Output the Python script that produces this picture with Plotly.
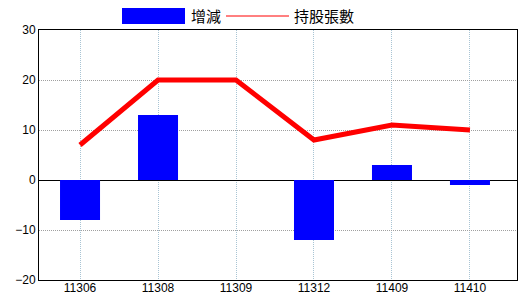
import plotly.graph_objects as go

categories = ["11306", "11308", "11309", "11312", "11409", "11410"]
change_values = [-8, 13, 0, -12, 3, -1]
holding_values = [7, 20, 20, 8, 11, 10]
y_ticks = [-20, -10, 0, 10, 20, 30]
legend_labels = ["增減", "持股張數"]

W, H = 520, 300
ML, MR, MT, MB = 39, 3, 30, 20
PW, PH = W - ML - MR, H - MT - MB

def px_x(px):
    return (px - ML) / PW

def px_y(py):
    return (H - MB - py) / PH

fig = go.Figure()
fig.add_trace(go.Bar(x=categories, y=change_values, marker_color="#0000FF",
                     marker_line_width=0, width=0.513, name=legend_labels[0]))
fig.add_trace(go.Scatter(x=categories, y=holding_values, mode="lines",
                         line=dict(color="#FF0000", width=5), name=legend_labels[1]))

cjk = "Noto Sans CJK TC"
# manual legend
fig.add_shape(type="rect", xref="paper", yref="paper",
              x0=px_x(122), x1=px_x(185), y0=px_y(24), y1=px_y(8),
              fillcolor="#0000FF", line_width=0)
fig.add_annotation(xref="paper", yref="paper", x=px_x(189), y=px_y(16),
                   text=legend_labels[0], showarrow=False, xanchor="left", yanchor="middle",
                   font=dict(family=cjk, size=15, color="black"))
fig.add_shape(type="line", xref="paper", yref="paper",
              x0=px_x(226), x1=px_x(289), y0=px_y(16), y1=px_y(16),
              line=dict(color="#FF0000", width=1))
fig.add_annotation(xref="paper", yref="paper", x=px_x(292), y=px_y(16),
                   text=legend_labels[1], showarrow=False, xanchor="left", yanchor="middle",
                   font=dict(family=cjk, size=15, color="black"))

fig.update_layout(
    width=W, height=H,
    margin=dict(l=ML, r=MR, t=MT, b=MB),
    paper_bgcolor="white", plot_bgcolor="white",
    showlegend=False,
    font=dict(family="Liberation Sans", size=12, color="black"),
    xaxis=dict(type="category", range=[-0.526, 5.603],
               showline=True, linecolor="black", linewidth=1, mirror=True,
               showgrid=True, gridcolor="#a8c4d4", griddash="1px,1px", gridwidth=1,
               ticks="", ticklabelstandoff=-3, tickfont=dict(size=12)),
    yaxis=dict(range=[-20, 30], tickvals=y_ticks,
               showline=True, linecolor="black", linewidth=1, mirror=True,
               showgrid=True, gridcolor="#a0a0a0", griddash="1px,1px", gridwidth=1,
               zeroline=True, zerolinecolor="black", zerolinewidth=1,
               ticks="", tickfont=dict(size=12)),
)

fig.write_html("out.html")
